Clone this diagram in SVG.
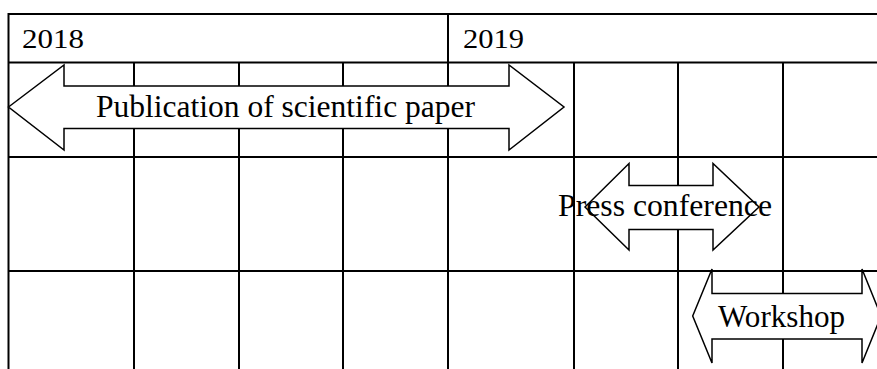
<svg xmlns="http://www.w3.org/2000/svg" width="877" height="369" viewBox="0 0 877 369">
<style>
.grid{stroke:#000;stroke-width:2;fill:none}
.arrow{fill:#fff;stroke:#000;stroke-width:1.5;stroke-linejoin:miter}
.lbl{font-family:'Liberation Serif','Times New Roman',Times,serif;fill:#000;font-size:32px}
.yr{font-family:'Liberation Serif','Times New Roman',Times,serif;fill:#000;font-size:28px}
</style>
<rect width="877" height="369" fill="#fff"/>
<g id="grid" class="grid">
<line x1="8.5" y1="14" x2="877" y2="14"/>
<line x1="8.5" y1="62.5" x2="877" y2="62.5"/>
<line x1="8.5" y1="157" x2="877" y2="157"/>
<line x1="8.5" y1="271" x2="877" y2="271"/>
<line x1="8.5" y1="13" x2="8.5" y2="369"/>
<line x1="448" y1="14" x2="448" y2="369"/>
<line x1="134" y1="62.5" x2="134" y2="369"/>
<line x1="239" y1="62.5" x2="239" y2="369"/>
<line x1="343" y1="62.5" x2="343" y2="369"/>
<line x1="574" y1="62.5" x2="574" y2="369"/>
<line x1="678" y1="62.5" x2="678" y2="369"/>
<line x1="783" y1="62.5" x2="783" y2="369"/>
</g>
<g id="year-2018"><text class="yr" x="22" y="48" textLength="62" lengthAdjust="spacingAndGlyphs">2018</text></g>
<g id="year-2019"><text class="yr" x="463" y="48" textLength="61" lengthAdjust="spacingAndGlyphs">2019</text></g>
<g id="publication">
<polygon class="arrow" points="8.5,107 64,65 64,86 509,86 509,65 564,107 509,150 509,128.5 64,128.5 64,150"/>
<text class="lbl" x="96" y="116.5" textLength="379" lengthAdjust="spacingAndGlyphs">Publication of scientific paper</text>
</g>
<g id="press-conference">
<polygon class="arrow" points="585,207 629,163.5 629,185.5 713,185.5 713,163.5 759,207 713,250 713,229.5 629,229.5 629,250"/>
<text class="lbl" x="558" y="216" textLength="214" lengthAdjust="spacingAndGlyphs">Press conference</text>
</g>
<g id="workshop">
<polygon class="arrow" points="692.7,316 712,269 712,293.5 862,293.5 862,269 881,316 862,363 862,339 712,339 712,363"/>
<text class="lbl" x="718" y="326.5" textLength="127" lengthAdjust="spacingAndGlyphs">Workshop</text>
</g>
</svg>
